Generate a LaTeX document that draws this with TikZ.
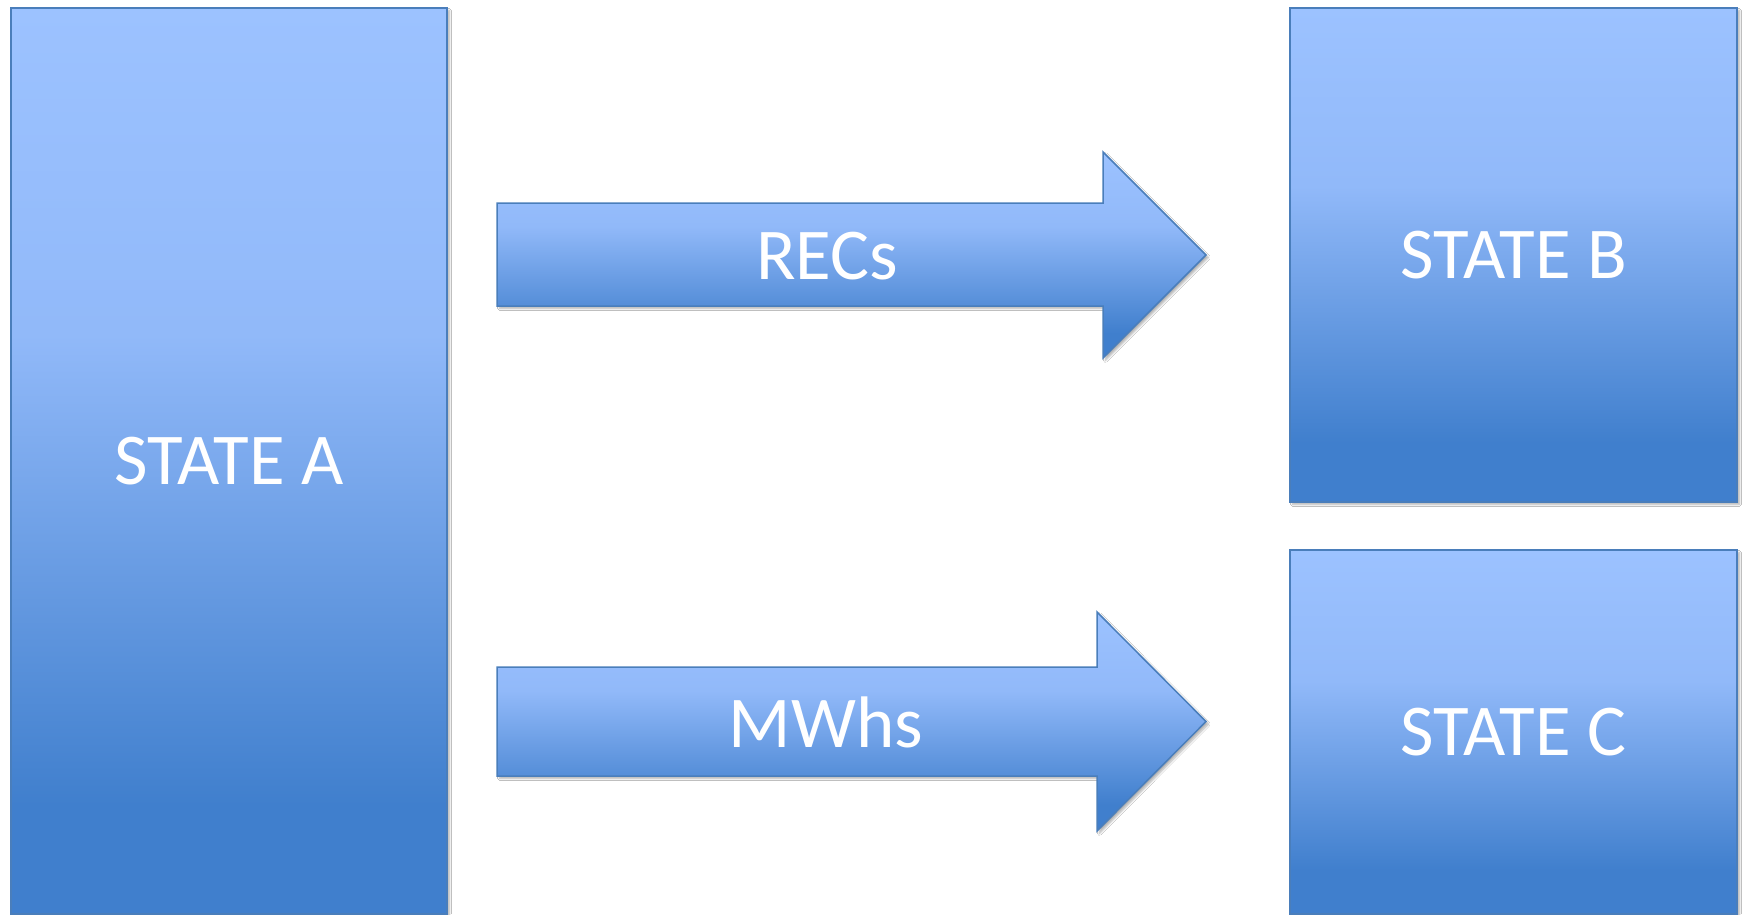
\documentclass[tikz,border=0pt]{standalone}
\usepackage{fontspec}
\setmainfont{Carlito}
\usetikzlibrary{shadows.blur}
\definecolor{gradtop}{RGB}{156,194,255}
\definecolor{gradmid}{RGB}{145,185,249}
\definecolor{gradbot}{RGB}{64,127,205}
\definecolor{edgeblue}{RGB}{74,126,187}
% path shadings are fitted with their 25bp--75bp band on the path
\pgfdeclareverticalshading{bluegrad}{100bp}{color(0bp)=(gradbot); color(31bp)=(gradbot); color(57bp)=(gradmid); color(75bp)=(gradtop); color(100bp)=(gradtop)}
\tikzset{
  softshadow/.style={blur shadow={shadow xshift=2.5pt, shadow yshift=-2.5pt, shadow blur steps=6, shadow opacity=30}},
  statebox/.style={rectangle, draw=edgeblue, line width=1.5pt, shading=bluegrad, softshadow,
    text=white, font=\fontsize{73}{88}\selectfont, inner sep=0pt},
  blockarrow/.style={draw=edgeblue, line width=1.5pt, shading=bluegrad, softshadow},
  arrowtext/.style={text=white, font=\fontsize{73}{88}\selectfont, inner sep=0pt}
}
\begin{document}
\begin{tikzpicture}[x=1pt, y=-1pt]
\useasboundingbox (0,0) rectangle (1743,914);
\fill[white] (0,0) rectangle (1743,914);

% the three states
\node[statebox, minimum width=436pt, minimum height=906pt] (A) at (229,461) {STATE A};
\node[statebox, minimum width=447pt, minimum height=494pt] (B) at (1513.5,255) {STATE B};
\node[statebox, minimum width=447pt, minimum height=364pt] (C) at (1513.5,732) {STATE C};

% block arrows
\path[blockarrow] (497,203) -- (1103,203) -- (1103,152) -- (1206,255)
  -- (1103,358) -- (1103,306) -- (497,306) -- cycle;
\node[arrowtext] (recs) at (827,256) {RECs};

\path[blockarrow] (497,667) -- (1097,667) -- (1097,612) -- (1206,721.5)
  -- (1097,831) -- (1097,776) -- (497,776) -- cycle;
\node[arrowtext] (mwhs) at (826,722) {MWhs};
\end{tikzpicture}
\end{document}
